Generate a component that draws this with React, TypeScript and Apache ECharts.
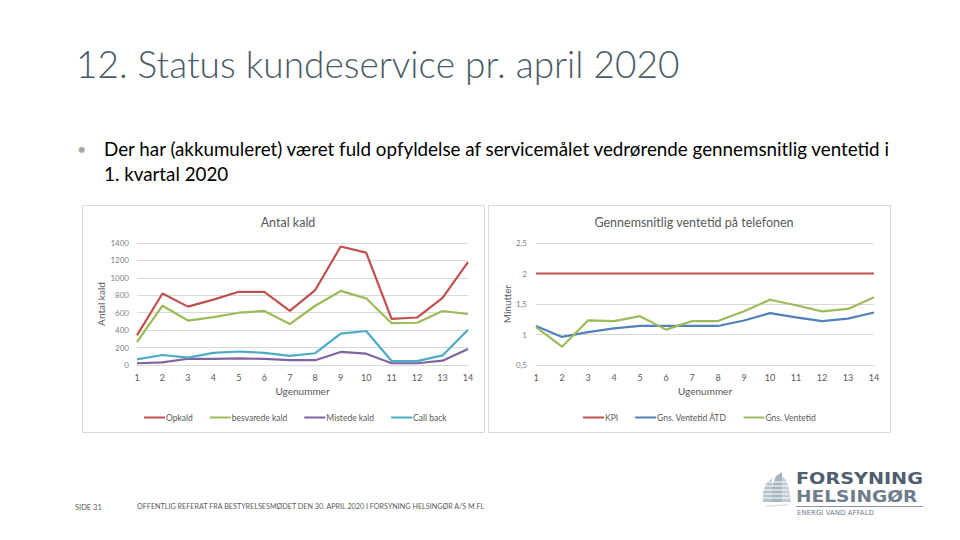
import React, { useEffect, useRef } from "react";
import * as echarts from "echarts";

const weeks = ["1", "2", "3", "4", "5", "6", "7", "8", "9", "10", "11", "12", "13", "14"];

const opkald = [340, 820, 670, 750, 840, 840, 620, 860, 1360, 1290, 530, 545, 770, 1180];
const besvaredeKald = [265, 680, 510, 550, 600, 620, 470, 680, 850, 765, 480, 485, 620, 585];
const mistedeKald = [20, 30, 72, 70, 75, 70, 55, 55, 150, 130, 20, 20, 50, 185];
const callBack = [65, 115, 85, 140, 155, 140, 105, 135, 360, 390, 45, 45, 110, 405];

const kpi = [2, 2, 2, 2, 2, 2, 2, 2, 2, 2, 2, 2, 2, 2];
const ventetidATD = [1.14, 0.96, 1.04, 1.1, 1.14, 1.14, 1.14, 1.14, 1.23, 1.35, 1.28, 1.22, 1.26, 1.36];
const ventetid = [1.12, 0.8, 1.23, 1.22, 1.3, 1.08, 1.22, 1.22, 1.38, 1.57, 1.48, 1.38, 1.42, 1.61];

const leftYTicks = { min: 0, max: 1400, interval: 200 };
const rightYTicks = { min: 0.5, max: 2.5, interval: 0.5 };

const FONT = "Lato, 'Open Sans', sans-serif";
const AXIS_LABEL = "#7f7f7f";

export default function App() {
  const ref = useRef<HTMLDivElement>(null);

  useEffect(() => {
    if (!ref.current) return;
    const chart = echarts.init(ref.current, undefined, { renderer: "svg" });

    const xAxisBase = (gridIndex: number) => ({
      type: "category" as const,
      gridIndex,
      data: weeks,
      boundaryGap: false,
      name: "Ugenummer",
      nameLocation: "middle" as const,
      nameGap: 21,
      nameTextStyle: { color: "#595959", fontSize: 10, fontFamily: FONT },
      axisLine: { show: true, lineStyle: { color: "#d9d9d9" } },
      axisTick: { show: false },
      axisLabel: { color: "#595959", fontSize: 9, fontFamily: FONT, margin: 8 },
      splitLine: { show: false },
    });

    const lineSeries = (name: string, data: number[], color: string, xi: number) => ({
      name,
      type: "line" as const,
      xAxisIndex: xi,
      yAxisIndex: xi,
      data,
      showSymbol: false,
      symbol: "none",
      lineStyle: { color, width: 2.2 },
      itemStyle: { color },
    });

    const fmt = (v: number) => String(v).replace(".", ",");

    const legendText = { color: "#595959", fontSize: 8.5, fontFamily: FONT, padding: [0, 0, 0, -4] };

    chart.setOption({
      animation: false,
      backgroundColor: "#ffffff",
      textStyle: { fontFamily: FONT },
      title: [
        {
          text: "Antal kald",
          left: 283,
          top: 211,
          textAlign: "center",
          textStyle: { color: "#595959", fontSize: 12.5, fontWeight: "normal", fontFamily: FONT },
        },
        {
          text: "Gennemsnitlig ventetid på telefonen",
          left: 689,
          top: 211,
          textAlign: "center",
          textStyle: { color: "#595959", fontSize: 12.5, fontWeight: "normal", fontFamily: FONT },
        },
      ],
      legend: [
        {
          data: ["Opkald", "besvarede kald", "Mistede kald", "Call back"],
          left: 139,
          top: 408,
          icon: "rect",
          itemWidth: 21,
          itemHeight: 2,
          itemGap: 17,
          textStyle: legendText,
        },
        {
          data: ["KPI", "Gns. Ventetid ÅTD", "Gns. Ventetid"],
          left: 578,
          top: 408,
          icon: "rect",
          itemWidth: 21,
          itemHeight: 2,
          itemGap: 17,
          textStyle: legendText,
        },
      ],
      grid: [
        { left: 137, top: 243, width: 331, height: 122 },
        { left: 536, top: 243, width: 338, height: 122 },
      ],
      xAxis: [xAxisBase(0), xAxisBase(1)],
      yAxis: [
        {
          type: "value",
          gridIndex: 0,
          ...leftYTicks,
          name: "Antal kald",
          nameLocation: "middle",
          nameGap: 31,
          nameTextStyle: { color: "#595959", fontSize: 10, fontFamily: FONT },
          axisLine: { show: false },
          axisTick: { show: false },
          axisLabel: { color: AXIS_LABEL, fontSize: 8, fontFamily: FONT, margin: 8, formatter: (v: number) => String(v) },
          splitLine: { lineStyle: { color: "#d9d9d9", width: 1 } },
        },
        {
          type: "value",
          gridIndex: 1,
          ...rightYTicks,
          name: "Minutter",
          nameLocation: "middle",
          nameGap: 24,
          nameTextStyle: { color: "#595959", fontSize: 10, fontFamily: FONT },
          axisLine: { show: false },
          axisTick: { show: false },
          axisLabel: { color: AXIS_LABEL, fontSize: 8, fontFamily: FONT, margin: 9, formatter: fmt },
          splitLine: { lineStyle: { color: "#d9d9d9", width: 1 } },
        },
      ],
      series: [
        lineSeries("Opkald", opkald, "#c0504d", 0),
        lineSeries("besvarede kald", besvaredeKald, "#9bbb59", 0),
        lineSeries("Mistede kald", mistedeKald, "#8064a2", 0),
        lineSeries("Call back", callBack, "#4bacc6", 0),
        lineSeries("KPI", kpi, "#c0504d", 1),
        lineSeries("Gns. Ventetid ÅTD", ventetidATD, "#4f81bd", 1),
        lineSeries("Gns. Ventetid", ventetid, "#9bbb59", 1),
      ],
      graphic: [
        {
          type: "rect",
          shape: { x: 82.5, y: 205.5, width: 402, height: 227 },
          style: { fill: "none", stroke: "#d9d9d9", lineWidth: 1 },
          z: -1,
        },
        {
          type: "rect",
          shape: { x: 488.5, y: 205.5, width: 402, height: 227 },
          style: { fill: "none", stroke: "#d9d9d9", lineWidth: 1 },
          z: -1,
        },
        {
          type: "text",
          left: 76,
          top: 45,
          style: {
            text: "12. Status kundeservice pr. april 2020",
            fill: "#4a5a66",
            font: `300 37px ${FONT}`,
          },
        },
        {
          type: "text",
          left: 77,
          top: 140,
          style: { text: "•", fill: "#a6a6a6", font: `400 16px ${FONT}` },
        },
        {
          type: "text",
          left: 104,
          top: 139,
          style: {
            text: "Der har (akkumuleret) været fuld opfyldelse af servicemålet vedrørende gennemsnitlig ventetid i",
            fill: "#000000",
            font: `400 18.8px ${FONT}`,
          },
        },
        {
          type: "text",
          left: 104,
          top: 164,
          style: { text: "1. kvartal 2020", fill: "#000000", font: `400 18.8px ${FONT}` },
        },
        {
          type: "text",
          left: 75,
          top: 503,
          style: { text: "SIDE 31", fill: "#595959", font: `400 7.5px ${FONT}` },
        },
        {
          type: "text",
          left: 137,
          top: 503,
          style: {
            text: "OFFENTLIG REFERAT FRA BESTYRELSESMØDET DEN 30. APRIL 2020 I FORSYNING HELSINGØR A/S M.FL",
            fill: "#595959",
            font: `400 7.2px ${FONT}`,
          },
        },
        // logo
        {
          type: "group",
          children: [
            { type: "polygon", shape: { points: [[763, 502], [772, 502], [772, 478], [766, 484], [763, 492]] }, style: { fill: "#b7c3cc" } },
            { type: "polygon", shape: { points: [[772, 502], [782, 502], [782, 472], [776, 476], [772, 486]] }, style: { fill: "#a9b6c0" } },
            { type: "polygon", shape: { points: [[782, 502], [791, 502], [789, 488], [786, 480], [782, 476]] }, style: { fill: "#c3cdd4" } },
            { type: "line", shape: { x1: 762, y1: 486, x2: 791, y2: 486 }, style: { stroke: "#ffffff", lineWidth: 1 } },
            { type: "line", shape: { x1: 762, y1: 490, x2: 791, y2: 490 }, style: { stroke: "#ffffff", lineWidth: 1 } },
            { type: "line", shape: { x1: 762, y1: 494, x2: 791, y2: 494 }, style: { stroke: "#ffffff", lineWidth: 1 } },
            { type: "line", shape: { x1: 762, y1: 498, x2: 791, y2: 498 }, style: { stroke: "#ffffff", lineWidth: 1 } },
            { type: "line", shape: { x1: 762, y1: 482, x2: 791, y2: 482 }, style: { stroke: "#ffffff", lineWidth: 1 } },
            { type: "line", shape: { x1: 766, y1: 506, x2: 788, y2: 505 }, style: { stroke: "#d9dee2", lineWidth: 1.5 } },
            {
              type: "text",
              x: 796,
              y: 471,
              scaleX: 1.2,
              style: { text: "FORSYNING", fill: "#4f5f70", font: `700 16px 'DejaVu Sans', sans-serif`, verticalAlign: "top" },
            },
            {
              type: "text",
              x: 796,
              y: 489,
              scaleX: 1.2,
              style: { text: "HELSINGØR", fill: "#6f7d8b", font: `700 15.5px 'DejaVu Sans', sans-serif`, verticalAlign: "top" },
            },
            { type: "line", shape: { x1: 796, y1: 506.5, x2: 923, y2: 506.5 }, style: { stroke: "#8a96a2", lineWidth: 1 } },
            {
              type: "text",
              left: 797,
              top: 509,
              style: { text: "ENERGI VAND AFFALD", fill: "#6f7d8b", font: `400 7px 'DejaVu Sans', sans-serif` },
            },
          ],
        },
      ],
    });

    return () => chart.dispose();
  }, []);

  return (
    <div
      ref={ref}
      style={{ position: "absolute", left: 0, top: 0, width: 960, height: 540 }}
    />
  );
}
